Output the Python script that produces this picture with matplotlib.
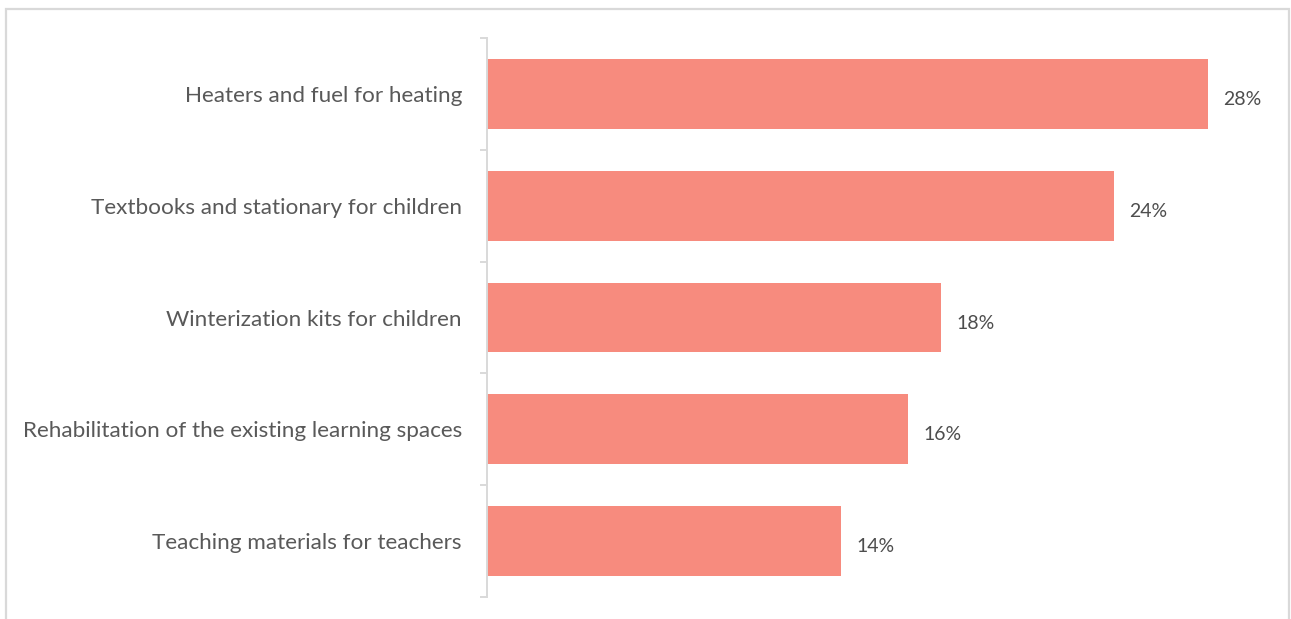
import numpy as np
import matplotlib
matplotlib.use("Agg")
import matplotlib.pyplot as plt
from matplotlib.patches import Rectangle

categories = [
    "Heaters and fuel for heating",
    "Textbooks and stationary for children",
    "Winterization kits for children",
    "Rehabilitation of the existing learning spaces",
    "Teaching materials for teachers",
]
values = [28.0, 24.35, 17.65, 16.35, 13.75]
labels = ["28%", "24%", "18%", "16%", "14%"]

bar_color = "#F78B7E"
text_color = "#595959"
line_color = "#D9D9D9"

plt.rcParams["font.family"] = ["Lato", "DejaVu Sans"]

W, H = 1291, 619
fig = plt.figure(figsize=(W / 100, H / 100), dpi=100)

# outer frame of the chart area
fig.patches.append(Rectangle((6 / W, -0.05), (1289 - 6) / W, 1.05 - 9 / H,
                             transform=fig.transFigure, fill=False,
                             edgecolor=line_color, linewidth=1.6))

ax = fig.add_axes([487 / W, 1 - 597 / H, (1260 - 487) / W, (597 - 38) / H])

y = np.arange(len(categories))
ax.barh(y, values, height=0.625, color=bar_color)

for yi, v, lab in zip(y, values, labels):
    ax.annotate(lab, (v, yi), xytext=(11, -4), textcoords="offset points",
                ha="left", va="center", fontsize=14, color="#4D4D4D")

ax.set_xlim(0, 30.02)
ax.set_ylim(len(categories) - 0.5, -0.5)
ax.set_yticks(y)
ax.set_yticklabels(categories, fontsize=16.2, color=text_color)
ax.set_yticks(np.arange(-0.5, len(categories)), minor=True)
ax.tick_params(axis="y", which="major", length=0, pad=18)
ax.tick_params(axis="y", which="minor", length=5, color=line_color, width=1.4)
ax.set_xticks([])

for s in ["top", "right", "bottom"]:
    ax.spines[s].set_visible(False)
ax.spines["left"].set_color(line_color)
ax.spines["left"].set_linewidth(1.4)

fig.savefig("out.png", dpi=100)
